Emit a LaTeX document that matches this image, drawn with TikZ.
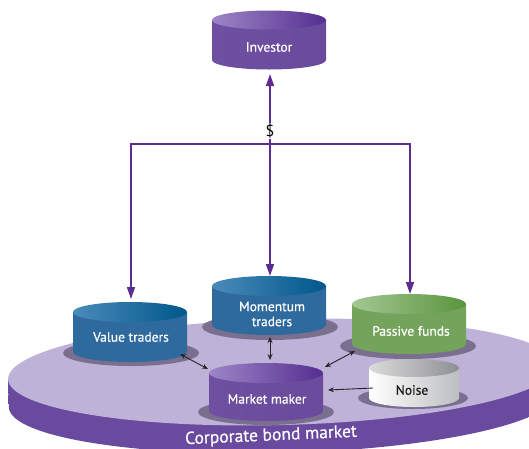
\documentclass[tikz,border=0pt]{standalone}
\usepackage{fontspec}
\setmainfont{PT Sans}
\newfontfamily\lblfont[FakeBold=0.5]{PT Sans}
\usetikzlibrary{arrows.meta}
\definecolor{pline}{HTML}{5B2D90}
\definecolor{purSide}{HTML}{6E4FA0}
\definecolor{purSideR}{HTML}{6A4A9C}
\definecolor{purTopL}{HTML}{9D86C8}
\definecolor{purTopR}{HTML}{552E8F}
\definecolor{bluSide}{HTML}{2E6A9E}
\definecolor{bluTopL}{HTML}{4A8BBA}
\definecolor{bluTopR}{HTML}{00578B}
\definecolor{grnSide}{HTML}{74A35B}
\definecolor{grnTopL}{HTML}{A3C793}
\definecolor{grnTopR}{HTML}{5A953D}
\definecolor{noiSideL}{HTML}{FFFFFF}
\definecolor{noiSideR}{HTML}{BDBEC0}
\definecolor{noiTopL}{HTML}{DCDCDC}
\definecolor{noiTopR}{HTML}{8E8F93}
\definecolor{shad}{HTML}{7B6F90}
\definecolor{platTop}{HTML}{BEB2D8}
\definecolor{platL}{HTML}{6A4A9E}
\definecolor{platM}{HTML}{A28ECB}
\newcommand{\drawcyl}[9]{%
  \shade[left color=#6, right color=#7] ({#1-#4},#2) -- ({#1-#4},#3)
     arc[start angle=180, end angle=360, x radius=#4pt, y radius=#5pt]
     -- ({#1+#4},#2) -- cycle;
  \shade[left color=#8, middle color=#9, right color=#9] (#1,#2) ellipse [x radius=#4pt, y radius=#5pt];
}
\newcommand{\drawshad}[4]{\fill[shad] (#1,#2) ellipse [x radius=#3pt, y radius=#4pt];}
\tikzset{
  lbl/.style={text=white, font=\lblfont\fontsize{13.5}{15}\selectfont, align=center, inner sep=1pt},
  plink/.style={draw=pline, line width=1.6pt},
  ptip/.style={-{Triangle[length=12pt,width=8pt]}},
  blink/.style={draw=black!85, line width=0.9pt, {Stealth[length=6pt,width=5pt]}-{Stealth[length=6pt,width=5pt]}},
  bone/.style={draw=black!85, line width=0.9pt, -{Stealth[length=6pt,width=5pt]}}
}
\begin{document}
\begin{tikzpicture}[x=1pt, y=-1pt]
\useasboundingbox (0,0) rectangle (529,448);
\clip (0,0) rectangle (529,448);
% platform
\begin{scope}[rotate around={1.5:(282,372)}]
  \shade[left color=platL, middle color=platM, right color=platL]
    (8,372) -- (8,400) arc[start angle=180, end angle=360, x radius=274pt, y radius=53pt] -- (556,372) -- cycle;
  \fill[platTop] (282,372) ellipse [x radius=274pt, y radius=53pt];
\end{scope}
\node[text=white, font=\lblfont\fontsize{17.5}{18}\selectfont, rotate=2.5, inner sep=0pt] (cbm) at (271,436) {Corporate bond market};
% shadows
\drawshad{131}{353}{68}{13}
\drawshad{270}{327}{68}{13}
\drawshad{408}{346}{68}{13}
\drawshad{266}{412}{68}{13}
\drawshad{413}{398}{55}{11}
% cylinders
\drawcyl{269}{20}{60}{57}{9.5}{purSide}{purSideR}{purTopL}{purTopR}
\drawcyl{130}{312}{352}{57}{10}{bluSide}{bluSide}{bluTopL}{bluTopR}
\drawcyl{269}{286}{325}{57}{10}{bluSide}{bluSide}{bluTopL}{bluTopR}
\drawcyl{409}{304}{344}{57}{10}{grnSide}{grnSide}{grnTopL}{grnTopR}
\drawcyl{266}{373}{411}{57}{10}{purSide}{purSideR}{purTopL}{purTopR}
\drawcyl{414}{368}{398}{45}{9}{noiSideL}{noiSideR}{noiTopL}{noiTopR}
% labels
\node[lbl] (inv) at (269,47) {Investor};
\node[lbl] (vt) at (131,337) {Value traders};
\node[lbl] (mt) at (272,314) {Momentum\\traders};
\node[lbl] (pf) at (411,331) {Passive funds};
\node[lbl] (mm) at (267,399) {Market maker};
\node[lbl, text=black!90] (noise) at (412,390) {Noise};
\node[font=\fontsize{16}{17}\selectfont, inner sep=1pt] (dollar) at (270,131) {\$};
% connector end points
\coordinate (inv-b) at (270,74);
\coordinate (vt-t) at (131,299);
\coordinate (mt-t) at (270,276);
\coordinate (pf-t) at (410,294);
\coordinate (hl) at (131,144);
\coordinate (hr) at (410,144);
\coordinate (vt-e) at (180,354);
\coordinate (mm-vt) at (208,369);
\coordinate (mt-b) at (270,337);
\coordinate (mm-t) at (270,360);
\coordinate (pf-e) at (355,351);
\coordinate (mm-pf) at (325,367);
\coordinate (noise-w) at (373,388);
\coordinate (mm-e) at (328,390);
% purple connectors
\draw[plink, ptip] (dollar.north) -- (inv-b);
\draw[plink, {Triangle[length=12pt,width=8pt]}-{Triangle[length=12pt,width=8pt]}] (vt-t) -- (hl) -- (hr) -- (pf-t);
\draw[plink, ptip] (dollar.south) -- (mt-t);
% black connectors
\draw[blink] (vt-e) -- (mm-vt);
\draw[blink] (mt-b) -- (mm-t);
\draw[blink] (pf-e) -- (mm-pf);
\draw[bone] (noise-w) -- (mm-e);
\end{tikzpicture}
\end{document}
